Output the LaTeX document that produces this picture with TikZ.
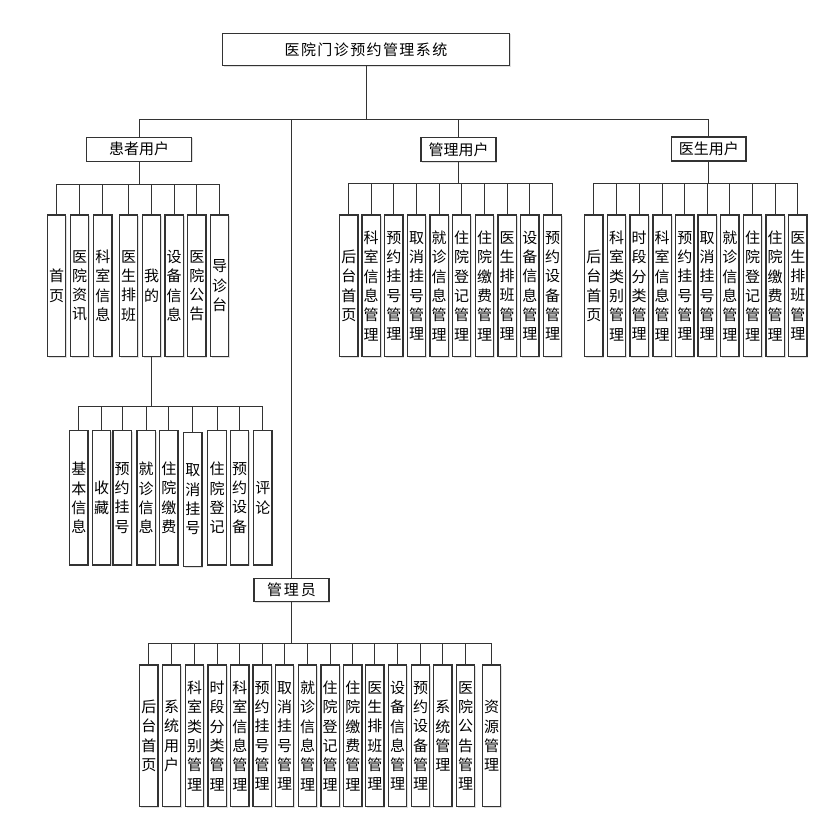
\documentclass[tikz,border=0pt]{standalone}
\usepackage{fontspec}
\newfontfamily\cjk{Noto Sans CJK SC}
\usetikzlibrary{shadows}
\begin{document}
\begin{tikzpicture}[x=1pt,y=-1pt,
  conn/.style={draw=black!80,line width=0.9pt},
  box/.style={draw=black!80,line width=1.2pt,fill=white,inner sep=0pt,
    font=\cjk\fontsize{15}{19.3}\selectfont,
    drop shadow={opacity=0.25,shadow xshift=1.2pt,shadow yshift=-1.2pt}},
  leaf/.style={box,minimum width=18.3pt,minimum height=141.7pt,text width=15pt,align=center},
  subleaf/.style={leaf,minimum height=134.3pt},
  group/.style={box,minimum height=24pt}]
\useasboundingbox (0,0) rectangle (839,821);
% root
\node[group,minimum width=286.6pt,minimum height=32.4pt] (T) at (366,49.5)
  {医\kern1.4pt 院\kern1.4pt 门\kern1.4pt 诊\kern1.4pt 预\kern1.4pt 约\kern1.4pt 管\kern1.4pt 理\kern1.4pt 系\kern1.4pt 统};
\node[group,minimum width=105pt] (P) at (139.2,149.2) {患者用户};
\node[group,minimum width=75pt] (M) at (458.5,149.5) {管理用户};
\node[group,minimum width=74.3pt] (D) at (708.8,149) {医生用户};
\node[group,minimum width=75pt,minimum height=23.4pt] (A) at (291.5,590) {管\kern2pt 理\kern2pt 员};
% patient leaves
\node[leaf] (p1) at (56.5,285.8) {首\\页};
\node[leaf] (p2) at (79.5,285.8) {医\\院\\资\\讯};
\node[leaf] (p3) at (102.85,285.8) {科\\室\\信\\息};
\node[leaf] (p4) at (128.5,285.8) {医\\生\\排\\班};
\node[leaf] (p5) at (151.5,285.8) {我\\的};
\node[leaf] (p6) at (174.15,285.8) {设\\备\\信\\息};
\node[leaf] (p7) at (196.85,285.8) {医\\院\\公\\告};
\node[leaf] (p8) at (219.5,285.8) {导\\诊\\台};
% my sub leaves
\node[subleaf] (s1) at (78.85,497.85) {基\\本\\信\\息};
\node[subleaf] (s2) at (101.7,497.85) {收\\藏};
\node[subleaf] (s3) at (122.15,497.85) {预\\约\\挂\\号};
\node[subleaf] (s4) at (146.15,497.85) {就\\诊\\信\\息};
\node[subleaf] (s5) at (168.85,497.85) {住\\院\\缴\\费};
\node[subleaf] (s6) at (192.85,499.5) {取\\消\\挂\\号};
\node[subleaf] (s7) at (217,497.85) {住\\院\\登\\记};
\node[subleaf] (s8) at (239.5,497.85) {预\\约\\设\\备};
\node[subleaf] (s9) at (262.85,497.85) {评\\论};
% management user leaves
\node[leaf] (m1) at (348.85,285.8) {后\\台\\首\\页};
\node[leaf] (m2) at (371.15,285.8) {科\\室\\信\\息\\管\\理};
\node[leaf] (m3) at (393.85,285.8) {预\\约\\挂\\号\\管\\理};
\node[leaf] (m4) at (416.5,285.8) {取\\消\\挂\\号\\管\\理};
\node[leaf] (m5) at (439.15,285.8) {就\\诊\\信\\息\\管\\理};
\node[leaf] (m6) at (461.5,285.8) {住\\院\\登\\记\\管\\理};
\node[leaf] (m7) at (484.5,285.8) {住\\院\\缴\\费\\管\\理};
\node[leaf] (m8) at (507.15,285.8) {医\\生\\排\\班\\管\\理};
\node[leaf] (m9) at (529.85,285.8) {设\\备\\信\\息\\管\\理};
\node[leaf] (m10) at (552.5,285.8) {预\\约\\设\\备\\管\\理};
% doctor leaves
\node[leaf] (d1) at (593.85,285.8) {后\\台\\首\\页};
\node[leaf] (d2) at (616.5,285.8) {科\\室\\类\\别\\管\\理};
\node[leaf] (d3) at (639.15,285.8) {时\\段\\分\\类\\管\\理};
\node[leaf] (d4) at (662.15,285.8) {科\\室\\信\\息\\管\\理};
\node[leaf] (d5) at (684.85,285.8) {预\\约\\挂\\号\\管\\理};
\node[leaf] (d6) at (707.15,285.8) {取\\消\\挂\\号\\管\\理};
\node[leaf] (d7) at (729.85,285.8) {就\\诊\\信\\息\\管\\理};
\node[leaf] (d8) at (752.5,285.8) {住\\院\\登\\记\\管\\理};
\node[leaf] (d9) at (775.15,285.8) {住\\院\\缴\\费\\管\\理};
\node[leaf] (d10) at (797.85,285.8) {医\\生\\排\\班\\管\\理};
% administrator leaves
\node[leaf] (a1) at (148.85,735.85) {后\\台\\首\\页};
\node[leaf] (a2) at (171.7,735.85) {系\\统\\用\\户};
\node[leaf] (a3) at (194.5,735.85) {科\\室\\类\\别\\管\\理};
\node[leaf] (a4) at (217.15,735.85) {时\\段\\分\\类\\管\\理};
\node[leaf] (a5) at (239.85,735.85) {科\\室\\信\\息\\管\\理};
\node[leaf] (a6) at (262.15,735.85) {预\\约\\挂\\号\\管\\理};
\node[leaf] (a7) at (284.5,735.85) {取\\消\\挂\\号\\管\\理};
\node[leaf] (a8) at (307.5,735.85) {就\\诊\\信\\息\\管\\理};
\node[leaf] (a9) at (330.15,735.85) {住\\院\\登\\记\\管\\理};
\node[leaf] (a10) at (352.85,735.85) {住\\院\\缴\\费\\管\\理};
\node[leaf] (a11) at (374.85,735.85) {医\\生\\排\\班\\管\\理};
\node[leaf] (a12) at (397.5,735.85) {设\\备\\信\\息\\管\\理};
\node[leaf] (a13) at (420.5,735.85) {预\\约\\设\\备\\管\\理};
\node[leaf] (a14) at (442.85,735.85) {系\\统\\管\\理};
\node[leaf] (a15) at (465.5,735.85) {医\\院\\公\\告\\管\\理};
\node[leaf] (a16) at (491.5,735.85) {资\\源\\管\\理};
% bus coordinates
\path (T.south) ++(0,53.3) coordinate (tb);
\path (P.south) ++(0,22.2) coordinate (pb);
\path (M.south) ++(0,21.6) coordinate (mb);
\path (D.south) ++(0,22.3) coordinate (db);
\path (p5.south) ++(0,49) coordinate (sb);
\path (A.south) ++(0,41.6) coordinate (ab);
% connectors
\begin{scope}[on background layer/.try]
\draw[conn] (T.south) -- (tb);
\foreach \c in {P,M,D,A} \draw[conn] (tb) -| (\c.north);
\draw[conn] (P.south) -- (pb);
\foreach \c in {p1,p2,p3,p4,p5,p6,p7,p8} \draw[conn] (pb) -| (\c.north);
\draw[conn] (M.south) -- (mb);
\foreach \c in {m1,m2,m3,m4,m5,m6,m7,m8,m9,m10} \draw[conn] (mb) -| (\c.north);
\draw[conn] (D.south) -- (db);
\foreach \c in {d1,d2,d3,d4,d5,d6,d7,d8,d9,d10} \draw[conn] (db) -| (\c.north);
\draw[conn] (p5.south) -- (sb);
\foreach \c in {s1,s2,s3,s4,s5,s6,s7,s8,s9} \draw[conn] (sb) -| (\c.north);
\draw[conn] (A.south) -- (ab);
\foreach \c in {a1,a2,a3,a4,a5,a6,a7,a8,a9,a10,a11,a12,a13,a14,a15,a16} \draw[conn] (ab) -| (\c.north);
\end{scope}
\end{tikzpicture}
\end{document}
